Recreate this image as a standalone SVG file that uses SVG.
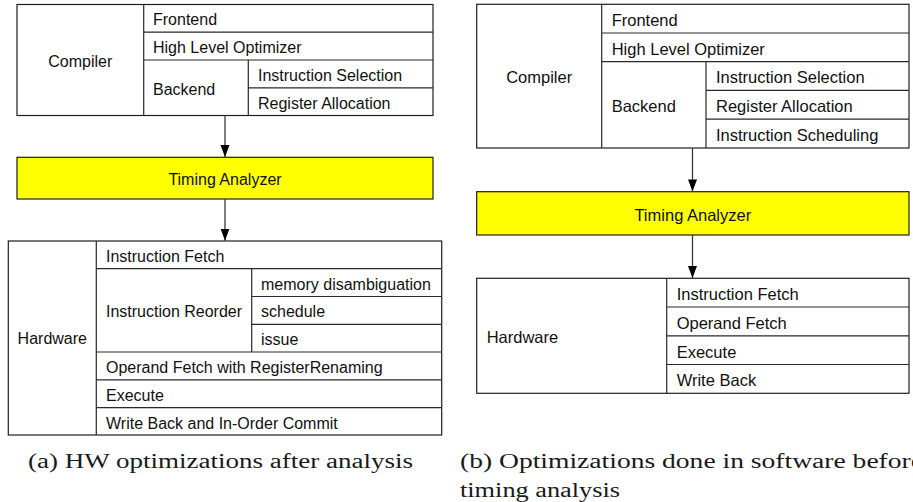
<svg xmlns="http://www.w3.org/2000/svg" width="913" height="502" viewBox="0 0 913 502">
  <style>
    .box { fill: #ffffff; stroke: #1e1e1e; stroke-width: 1.2; }
    .ta { fill: #ffff00; stroke: #1e1e1e; stroke-width: 1.2; }
    .div { stroke: #2a2a2a; stroke-width: 1.2; fill: none; }
    .lbl { font-family: "Liberation Sans", Arial, sans-serif; font-size: 16px; fill: #111; }
    .lblb { font-family: "Liberation Sans", Arial, sans-serif; font-size: 16.5px; fill: #111; }
    .mid { text-anchor: middle; }
    .cap { font-family: "Liberation Serif", "Times New Roman", serif; font-size: 20px; fill: #1a1a1a; }
    .conn { stroke: #3a3a3a; stroke-width: 1.3; fill: none; }
  </style>
  <defs>
    <!-- filled arrowhead, tip at the end of the line -->
    <marker id="arrow" markerUnits="userSpaceOnUse" markerWidth="12" markerHeight="10" viewBox="0 0 12 10" refX="12" refY="5" orient="auto">
      <path d="M0,0.5 L12,5 L0,9.5 Z" fill="#000"/>
    </marker>
  </defs>

  <!-- (a) compiler -->
  <g id="compiler-a">
    <rect class="box" x="17" y="4.5" width="416" height="111"/>
    <path class="div" d="M143.7,4.5 V115.5 M143.7,32.2 H433 M143.7,60 H433 M248.3,60 V115.5 M248.3,87.8 H433"/>
    <text class="lbl mid" x="80.3" y="67">Compiler</text>
    <text class="lbl" x="153" y="25">Frontend</text>
    <text class="lbl" x="153" y="53">High Level Optimizer</text>
    <text class="lbl" x="153" y="95">Backend</text>
    <text class="lbl" x="258" y="81">Instruction Selection</text>
    <text class="lbl" x="258" y="109">Register Allocation</text>
  </g>

  <!-- (a) timing analyzer -->
  <g id="timing-a">
    <rect class="ta" x="17" y="157.3" width="416" height="41.7"/>
    <text class="lbl mid" x="225" y="185">Timing Analyzer</text>
  </g>

  <!-- (a) hardware -->
  <g id="hardware-a">
    <rect class="box" x="8.3" y="241" width="433.4" height="194"/>
    <path class="div" d="M96.3,241 V435 M96.3,268.7 H441.7 M251.7,268.7 V352 M251.7,296.5 H441.7 M251.7,324.3 H441.7 M96.3,352 H441.7 M96.3,379.8 H441.7 M96.3,407.6 H441.7"/>
    <text class="lbl mid" x="52.3" y="344.3">Hardware</text>
    <text class="lbl" x="106" y="261.7">Instruction Fetch</text>
    <text class="lbl" x="106" y="317">Instruction Reorder</text>
    <text class="lbl" x="261" y="289.5">memory disambiguation</text>
    <text class="lbl" x="261" y="317.3">schedule</text>
    <text class="lbl" x="261" y="345">issue</text>
    <text class="lbl" x="106" y="373">Operand Fetch with RegisterRenaming</text>
    <text class="lbl" x="106" y="400.7">Execute</text>
    <text class="lbl" x="106" y="428.5">Write Back and In-Order Commit</text>
  </g>

  <!-- (b) compiler -->
  <g id="compiler-b">
    <rect class="box" x="476.7" y="4.3" width="432.3" height="143.7"/>
    <path class="div" d="M601.7,4.3 V148 M601.7,33 H909 M601.7,61.7 H909 M706,61.7 V148 M706,90.3 H909 M706,119.2 H909"/>
    <text class="lblb mid" x="539.2" y="83.3">Compiler</text>
    <text class="lblb" x="611.7" y="25.7">Frontend</text>
    <text class="lblb" x="611.7" y="54.5">High Level Optimizer</text>
    <text class="lblb" x="611.7" y="111.7">Backend</text>
    <text class="lblb" x="716" y="83.3">Instruction Selection</text>
    <text class="lblb" x="716" y="111.8">Register Allocation</text>
    <text class="lblb" x="716" y="140.5">Instruction Scheduling</text>
  </g>

  <!-- (b) timing analyzer -->
  <g id="timing-b">
    <rect class="ta" x="476.7" y="191.7" width="432.3" height="43.3"/>
    <text class="lblb mid" x="692.8" y="220.5">Timing Analyzer</text>
  </g>

  <!-- (b) hardware -->
  <g id="hardware-b">
    <rect class="box" x="476.7" y="278.3" width="432.3" height="115"/>
    <path class="div" d="M666.7,278.3 V393.3 M666.7,307 H909 M666.7,335.8 H909 M666.7,364.5 H909"/>
    <text class="lblb" x="486.7" y="343.3">Hardware</text>
    <text class="lblb" x="676.7" y="300">Instruction Fetch</text>
    <text class="lblb" x="676.7" y="328.8">Operand Fetch</text>
    <text class="lblb" x="676.7" y="357.6">Execute</text>
    <text class="lblb" x="676.7" y="386.4">Write Back</text>
  </g>

  <!-- connectors -->
  <g id="connectors">
    <line class="conn" x1="225" y1="115.5" x2="225" y2="157" marker-end="url(#arrow)"/>
    <line class="conn" x1="225" y1="199" x2="225" y2="240.7" marker-end="url(#arrow)"/>
    <line class="conn" x1="692.5" y1="148" x2="692.5" y2="191.4" marker-end="url(#arrow)"/>
    <line class="conn" x1="692.5" y1="235" x2="692.5" y2="278" marker-end="url(#arrow)"/>
  </g>

  <!-- captions -->
  <g id="captions">
    <text class="cap" x="28" y="467.5" textLength="385" lengthAdjust="spacingAndGlyphs">(a) HW optimizations after analysis</text>
    <text class="cap" x="460" y="468.3" textLength="463" lengthAdjust="spacingAndGlyphs">(b) Optimizations done in software before</text>
    <text class="cap" x="460" y="496.5" textLength="160" lengthAdjust="spacingAndGlyphs">timing analysis</text>
  </g>
</svg>
